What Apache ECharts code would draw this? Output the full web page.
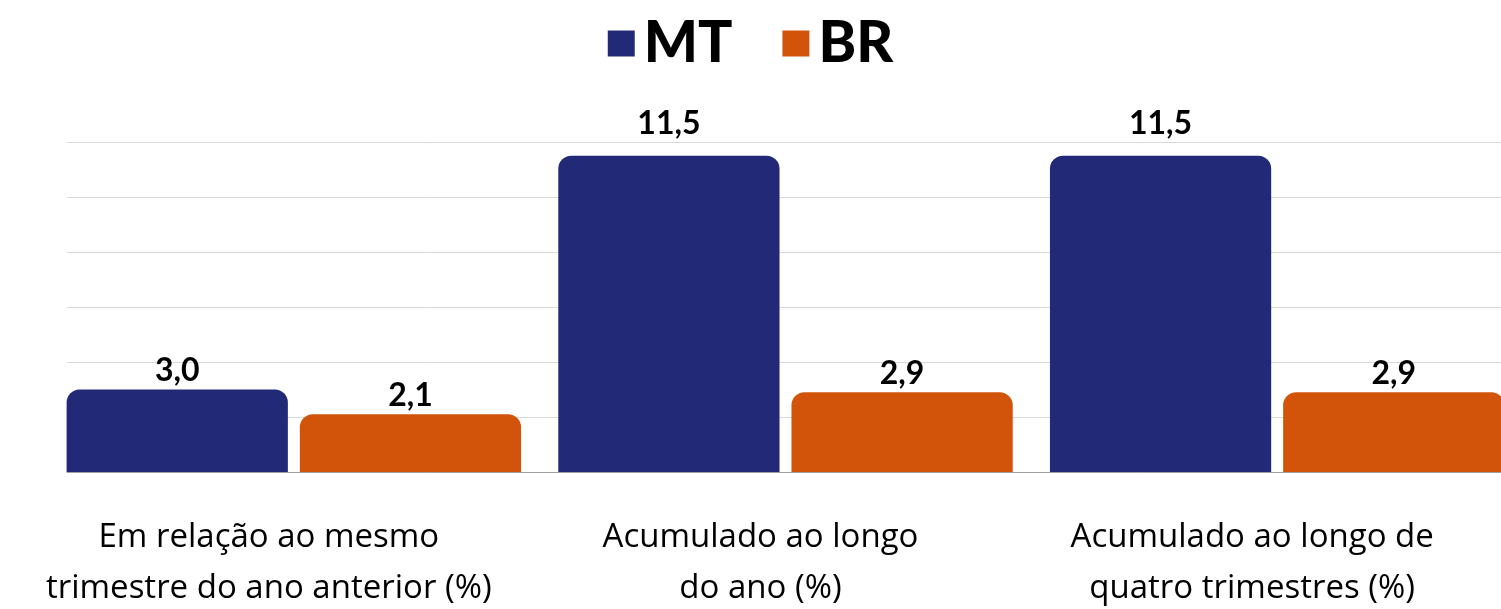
<!DOCTYPE html>
<html>
<head>
<meta charset="utf-8">
<script src="https://cdn.jsdelivr.net/npm/echarts@6/dist/echarts.min.js"></script>
<style>
	html, body { margin: 0; padding: 0; background: #fff; }
	#chart { width: 1501px; height: 609px; }
</style>
</head>
<body>
<div id="chart"></div>
<script>
	/*数据*/
	var categories = [
		'Em relação ao mesmo\ntrimestre do ano anterior (%)',
		'Acumulado ao longo\ndo ano (%)',
		'Acumulado ao longo de\nquatro trimestres (%)'
	];
	var seriesNames = ['MT', 'BR'];
	var mtValues = [3.0, 11.5, 11.5];
	var brValues = [2.1, 2.9, 2.9];
	var yMin = 0, yMax = 12, yStep = 2;

	var colors = ['#222a77', '#d2540b'];
	var fontName = 'Lato';

	/*把数值转成带逗号的文本*/
	function fmt(v) {
		return v.toFixed(1).replace('.', ',');
	}

	/*生成柱子的数据(高柱标签稍微抬高)*/
	function buildData(values) {
		return values.map(function (v) {
			return v > 10 ? { value: v, label: { distance: 16 } } : v;
		});
	}

	function barSeries(name, values, color) {
		return {
			name: name,
			type: 'bar',
			xAxisIndex: 1,
			yAxisIndex: 1,
			barWidth: '45%',
			barGap: '5.4%',
			data: buildData(values),
			itemStyle: { color: color, borderRadius: [13, 13, 0, 0] },
			label: {
				show: true,
				position: 'top',
				distance: 3,
				color: '#000',
				fontFamily: fontName,
				fontWeight: 'bold',
				fontSize: 32,
				formatter: function (p) { return fmt(p.value); }
			}
		};
	}

	var myChart = echarts.init(document.getElementById('chart'));
	var option = {
		animation: false,
		color: colors,
		legend: {
			top: 10,
			left: 'center',
			itemWidth: 27,
			itemHeight: 26,
			itemGap: 50,
			icon: 'rect',
			textStyle: {
				color: '#000',
				fontFamily: fontName,
				fontWeight: 900,
				fontSize: 57,
				padding: [0, 0, 0, 4]
			},
			data: seriesNames
		},
		grid: [
			// 网格线
			{ left: 67, right: 0, top: 142, bottom: 137, outerBoundsMode: 'none' },
			// 柱子(右边超出画面)
			{ left: 48, width: 1475, top: 142, bottom: 137, outerBoundsMode: 'none' }
		],
		xAxis: [
			{
				type: 'category',
				gridIndex: 0,
				data: categories,
				axisLine: { show: true, lineStyle: { color: '#a0a0a0', width: 1 } },
				axisTick: { show: false },
				axisLabel: { show: false }
			},
			{
				type: 'category',
				gridIndex: 1,
				data: categories,
				axisLine: { show: false },
				axisTick: { show: false },
				axisLabel: {
					interval: 0,
					margin: 40,
					color: '#000',
					fontFamily: 'Open Sans',
					fontSize: 33,
					lineHeight: 51,
					padding: [0, 50, 0, 0]
				}
			}
		],
		yAxis: [
			{
				type: 'value',
				gridIndex: 0,
				min: yMin, max: yMax, interval: yStep,
				axisLine: { show: false },
				axisTick: { show: false },
				axisLabel: { show: false },
				splitLine: { lineStyle: { color: '#d9d9d9', width: 1 } }
			},
			{
				type: 'value',
				gridIndex: 1,
				min: yMin, max: yMax, interval: yStep,
				show: false,
				splitLine: { show: false }
			}
		],
		series: [
			barSeries(seriesNames[0], mtValues, colors[0]),
			barSeries(seriesNames[1], brValues, colors[1])
		]
	};
	myChart.setOption(option);
</script>
</body>
</html>
